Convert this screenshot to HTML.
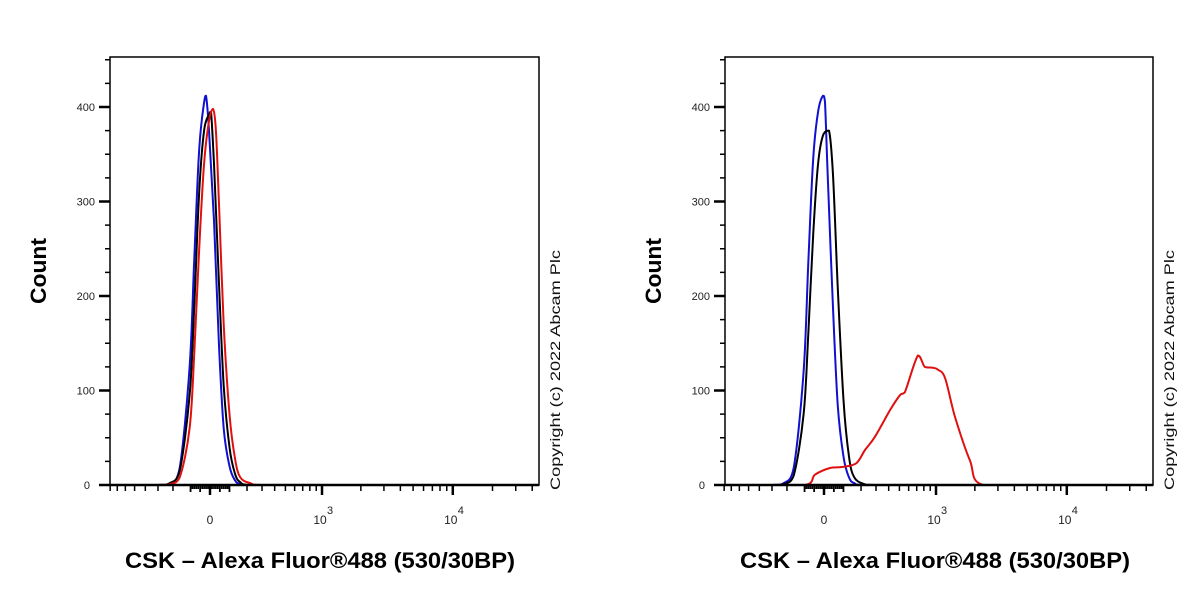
<!DOCTYPE html>
<html><head><meta charset="utf-8"><style>
html,body{margin:0;padding:0;background:#fff;}
svg{display:block;font-family:"Liberation Sans",Arial,sans-serif;}
</style></head><body>
<svg id="chart" width="1200" height="600" viewBox="0 0 1200 600"></svg>
<script>
// ---- data ----
const yTicks = [0, 100, 200, 300, 400];
const yMinorTicks = [25,50,75,125,150,175,225,250,275,325,350,375,425,450];
const xMajorTicks = [0, 1000, 10000];
const xMajorLabels = ["0", "10", "10"];
const xMajorSup = ["", "3", "4"];
const xMinorTicks = [-800,-700,-600,-500,-400,-300,-200,200,300,400,500,600,700,800,900,2000,3000,4000,5000,6000,7000,8000,9000,20000,30000,40000];
const xDenseTicks = [-100,-90,-80,-70,-60,-50,-40,-30,-20,-10,10,20,30,40,50,60,70,80,90,100];

// left panel
const leftBlueX = [-800,-300,-220,-160,-105,-80,-55,-30,-20,-5,20,45,70,100,130,160,220,45000];
const leftBlueY = [0,0,1,18,125,240,355,405,412,375,280,150,60,20,5,1,0,0];
const leftBlackX = [-800,-300,-220,-160,-105,-80,-55,-30,-5,5,20,45,70,100,130,160,220,45000];
const leftBlackY = [0,0,2,15,95,190,310,375,392,395,340,215,105,40,12,3,0,0];
const leftRedX = [-800,-300,-220,-160,-105,-80,-55,-30,-5,15,30,45,70,100,130,160,220,290,45000];
const leftRedY = [0,0,1,8,60,140,250,340,385,398,375,300,170,75,28,8,2,0,0];

// right panel
const rightBlueX = [-800,-300,-220,-160,-105,-80,-55,-30,-5,5,20,45,70,100,130,160,220,45000];
const rightBlueY = [0,0,2,18,120,235,345,395,412,405,320,190,85,30,8,2,0,0];
const rightBlackX = [-800,-300,-220,-160,-105,-80,-55,-30,-5,25,45,70,100,130,160,220,290,45000];
const rightBlackY = [0,0,1,10,75,160,265,340,370,375,330,210,90,30,8,1,0,0];
const rightRedX = [-800,-98,-45,30,92,171,225,292,411,506,557,716,815,948,1037,1179,1408,1832,2309,45000];
const rightRedY = [0,0,11,18,19,23,37,51,79,95,98,137,125,124,122,113,72,26,0,0];

const panels = [
  {name:"left", x0:110, x1:539, zero:210, series:[
    {n:"isotype-blue", c:"#1010d0", x:leftBlueX, y:leftBlueY},
    {n:"unstained-black", c:"#000", x:leftBlackX, y:leftBlackY},
    {n:"csk-red", c:"#e01010", x:leftRedX, y:leftRedY}]},
  {name:"right", x0:725, x1:1153, zero:824, series:[
    {n:"isotype-blue", c:"#1010d0", x:rightBlueX, y:rightBlueY},
    {n:"unstained-black", c:"#000", x:rightBlackX, y:rightBlackY},
    {n:"csk-red", c:"#e01010", x:rightRedX, y:rightRedY}]}
];

const NS = "http://www.w3.org/2000/svg";
const svg = document.getElementById("chart");
const Y0 = 485, YTOP = 57, YK = 0.945;
function yScale(v){ return Y0 - v*YK; }
function mk(tag, attrs, parent){
  const e = document.createElementNS(NS, tag);
  for (const k in attrs) e.setAttribute(k, attrs[k]);
  (parent||svg).appendChild(e);
  return e;
}
function clamp(v,a,b){ const lo=Math.min(a,b), hi=Math.max(a,b); return Math.max(lo, Math.min(hi, v)); }
function smoothPath(pts){
  let d = "M" + pts[0][0].toFixed(1) + "," + pts[0][1].toFixed(1);
  for (let i=0;i<pts.length-1;i++){
    const p0 = pts[i-1]||pts[i], p1 = pts[i], p2 = pts[i+1], p3 = pts[i+2]||p2;
    const t = 6;
    const c1 = [clamp(p1[0]+(p2[0]-p0[0])/t,p1[0],p2[0]), clamp(p1[1]+(p2[1]-p0[1])/t,p1[1],p2[1])];
    const c2 = [clamp(p2[0]-(p3[0]-p1[0])/t,p1[0],p2[0]), clamp(p2[1]-(p3[1]-p1[1])/t,p1[1],p2[1])];
    d += "C"+c1[0].toFixed(1)+","+c1[1].toFixed(1)+" "+c2[0].toFixed(1)+","+c2[1].toFixed(1)+" "+p2[0].toFixed(1)+","+p2[1].toFixed(1);
  }
  return d;
}

panels.forEach(p=>{
  const xScale = v => p.zero + 57.3*Math.asinh(v/289);
  const g = mk("g", {});
  
  
  const clipId = "clip-"+p.name;
  const cp = mk("clipPath", {id:clipId}, g);
  mk("rect", {x:p.x0, y:YTOP, width:p.x1-p.x0, height:Y0-YTOP+2}, cp);
  p.series.forEach(s=>{
    const pts = s.x.map((xv,i)=>[xScale(xv), yScale(s.y[i])]);
    const path = mk("path", {d:smoothPath(pts), fill:"none", stroke:s.c, "stroke-width":2, "stroke-linejoin":"round", "clip-path":"url(#"+clipId+")"}, g);
    
    
  });
  const frame = mk("rect", {x:p.x0, y:YTOP, width:p.x1-p.x0, height:Y0-YTOP, fill:"none", stroke:"#000", "stroke-width":1.5}, g);
  
  
  mk("line", {x1:p.x0, y1:Y0, x2:p.x1, y2:Y0, stroke:"#000", "stroke-width":2.5}, g);
  yTicks.forEach(v=>{
    const y = yScale(v);
    mk("line", {x1:p.x0-11, y1:y, x2:p.x0, y2:y, stroke:"#000", "stroke-width":2.5}, g);
    const t = mk("text", {x:p.x0-(v===0?20:15), y:y+4, "font-size":11, "text-anchor":"end", fill:"#222"}, g);
    t.textContent = v;
    
    
  });
  yMinorTicks.forEach(v=>{
    const y = yScale(v);
    mk("line", {x1:p.x0-5, y1:y, x2:p.x0, y2:y, stroke:"#000", "stroke-width":1.5}, g);
  });
  xMinorTicks.forEach(v=>{
    const x = xScale(v);
    mk("line", {x1:x, y1:Y0, x2:x, y2:Y0+6, stroke:"#000", "stroke-width":1.5}, g);
  });
  xDenseTicks.forEach(v=>{
    const x = xScale(v);
    mk("line", {x1:x, y1:Y0, x2:x, y2:Y0+(v%50===0?7:4), stroke:"#000", "stroke-width":1.8}, g);
  });
  xMajorTicks.forEach((v,i)=>{
    const x = xScale(v);
    mk("line", {x1:x, y1:Y0, x2:x, y2:Y0+10, stroke:"#000", "stroke-width":2.5}, g);
    const t = mk("text", {x:x-(xMajorSup[i]?2:0), y:524, "font-size":12, "text-anchor":"middle", fill:"#222"}, g);
    t.textContent = xMajorLabels[i];
    
    
    if (xMajorSup[i]) {
      const s = mk("text", {x:x+5, y:514, "font-size":11, fill:"#222"}, g);
      s.textContent = xMajorSup[i];
    }
  });
  const yt = mk("text", {x:0, y:0, "font-size":22, "font-weight":"bold", "text-anchor":"middle", textLength:66, lengthAdjust:"spacingAndGlyphs", transform:"translate("+(p.x0-64)+",271) rotate(-90)"}, g);
  yt.textContent = "Count";
  
  
  const xt = mk("text", {x:p.x0+15, y:568, "font-size":22, "font-weight":"bold", textLength:390, lengthAdjust:"spacingAndGlyphs"}, g);
  xt.textContent = "CSK \u2013 Alexa Fluor\u00AE488 (530/30BP)";
  
  
  const cr = mk("text", {x:0, y:0, "font-size":14, "text-anchor":"start", fill:"#111", textLength:240, lengthAdjust:"spacingAndGlyphs", transform:"translate("+(p.x1+21)+",490) rotate(-90)"}, g);
  cr.textContent = "Copyright (c) 2022 Abcam Plc";
  
  
});
</script>
</body></html>
